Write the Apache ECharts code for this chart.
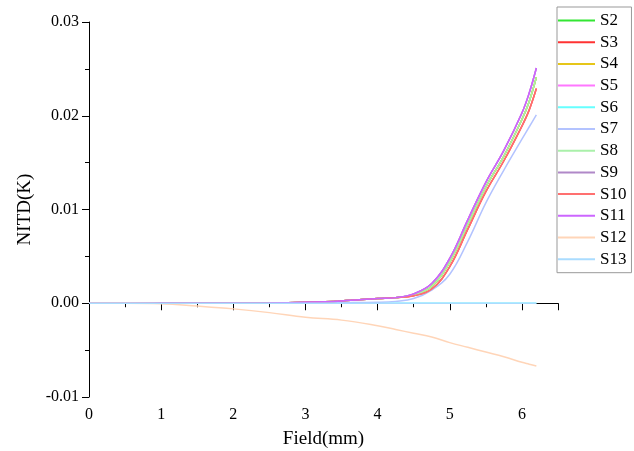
<!DOCTYPE html>
<html><head><meta charset="utf-8">
<script src="https://cdn.jsdelivr.net/npm/echarts@6/dist/echarts.min.js"></script>
<style>html,body{margin:0;padding:0;background:#fff}#c{width:634px;height:451px}</style>
</head><body><div id="c"></div>
<script>
const fieldX = [0, 0.5, 1, 1.5, 2, 2.5, 3, 3.5, 4, 4.25, 4.5, 4.75, 5, 5.25, 5.5, 5.75, 6, 6.1, 6.2];
const upperCurve = [0, 0, 0, 0, 0, 0.00002, 0.0001, 0.00025, 0.0005, 0.0006, 0.0010, 0.0021, 0.0048, 0.0089, 0.0129, 0.0163, 0.0203, 0.0224, 0.0251];
const middleCurve = [0, 0, 0, 0, 0, 0.00002, 0.0001, 0.00025, 0.0005, 0.0006, 0.0009, 0.0018, 0.0044, 0.0084, 0.0124, 0.0157, 0.0196, 0.0215, 0.0241];
const lowerCurve = [0, 0, 0, 0, 0, 0.00002, 0.0001, 0.00025, 0.0005, 0.0006, 0.0008, 0.0015, 0.0039, 0.0079, 0.0119, 0.0152, 0.0189, 0.0206, 0.0229];
const s7Curve = [0, 0, 0, 0, 0, 0, 0.00003, 0.00006, 0.0001, 0.0002, 0.0005, 0.0014, 0.0031, 0.0066, 0.0107, 0.0142, 0.0175, 0.0188, 0.0201];
const s12Curve = [0, 0, -0.00005, -0.0003, -0.0006, -0.001, -0.0015, -0.0018, -0.0024, -0.0028, -0.0032, -0.0036, -0.0042, -0.0047, -0.0052, -0.0057, -0.0063, -0.0065, -0.0067];
const zeroCurve = [0, 0, 0, 0, 0, 0, 0, 0, 0, 0, 0, 0, 0, 0, 0, 0, 0, 0, 0];
const seriesNames = ['S2','S3','S4','S5','S6','S7','S8','S9','S10','S11','S12','S13'];
const seriesValues = [middleCurve, lowerCurve, middleCurve, upperCurve, zeroCurve, s7Curve, middleCurve, upperCurve, lowerCurve, upperCurve, s12Curve, zeroCurve];
const seriesColors = ['#33e633','#ff3333','#e6c619','#ff77ff','#66ffff','#b3c3ff','#aaf0aa','#b088c8','#ff7070','#cc66ff','#ffd5b8','#aadcff'];
const yTicks = [-0.01, 0, 0.01, 0.02, 0.03];

const chart = echarts.init(document.getElementById('c'));
const font = '"Liberation Serif", "Times New Roman", serif';
chart.setOption({
  animation: false,
  textStyle: {fontFamily: font},
  grid: {left: 89, right: 76, top: 22, bottom: 54, containLabel: false, outerBoundsMode: 'none'},
  legend: {
    orient: 'vertical', left: 557, top: 7,
    padding: [5, 5, 5, 1],
    borderColor: '#999', borderWidth: 1,
    icon: 'rect',
    itemWidth: 37, itemHeight: 2, itemGap: 4.7,
    textStyle: {fontFamily: font, fontSize: 17, color: '#000', lineHeight: 16},
    data: seriesNames
  },
  xAxis: {
    type: 'value', min: 0, max: 6.5, interval: 1,
    name: 'Field(mm)', nameLocation: 'middle', nameGap: 33,
    nameTextStyle: {fontFamily: font, fontSize: 19, color: '#000'},
    axisLine: {lineStyle: {color: '#000', width: 1}},
    axisTick: {inside: false, length: 7, lineStyle: {color: '#000'}},
    minorTick: {show: true, splitNumber: 2, length: 4, lineStyle: {color: '#000'}},
    splitLine: {show: false},
    axisLabel: {fontFamily: font, fontSize: 16, color: '#000', margin: 10,
      formatter: v => (Number.isInteger(v) ? String(v) : '')}
  },
  yAxis: {
    type: 'value', min: yTicks[0], max: yTicks[yTicks.length - 1], interval: 0.01,
    name: 'NITD(K)', nameLocation: 'middle', nameGap: 54,
    nameTextStyle: {fontFamily: font, fontSize: 19, color: '#000'},
    axisLine: {show: true, onZero: false, lineStyle: {color: '#000', width: 1}},
    axisTick: {show: true, inside: false, length: 7, lineStyle: {color: '#000'}},
    minorTick: {show: true, splitNumber: 2, length: 4, lineStyle: {color: '#000'}},
    splitLine: {show: false},
    axisLabel: {fontFamily: font, fontSize: 16, color: '#000', margin: 10,
      formatter: v => v.toFixed(2)}
  },
  series: seriesNames.map((n, i) => ({
    name: n, type: 'line', smooth: 0.4, symbol: 'none',
    lineStyle: {color: seriesColors[i], width: 1.5},
    itemStyle: {color: seriesColors[i]},
    data: fieldX.map((x, j) => [x, seriesValues[i][j]])
  }))
});
</script></body></html>
